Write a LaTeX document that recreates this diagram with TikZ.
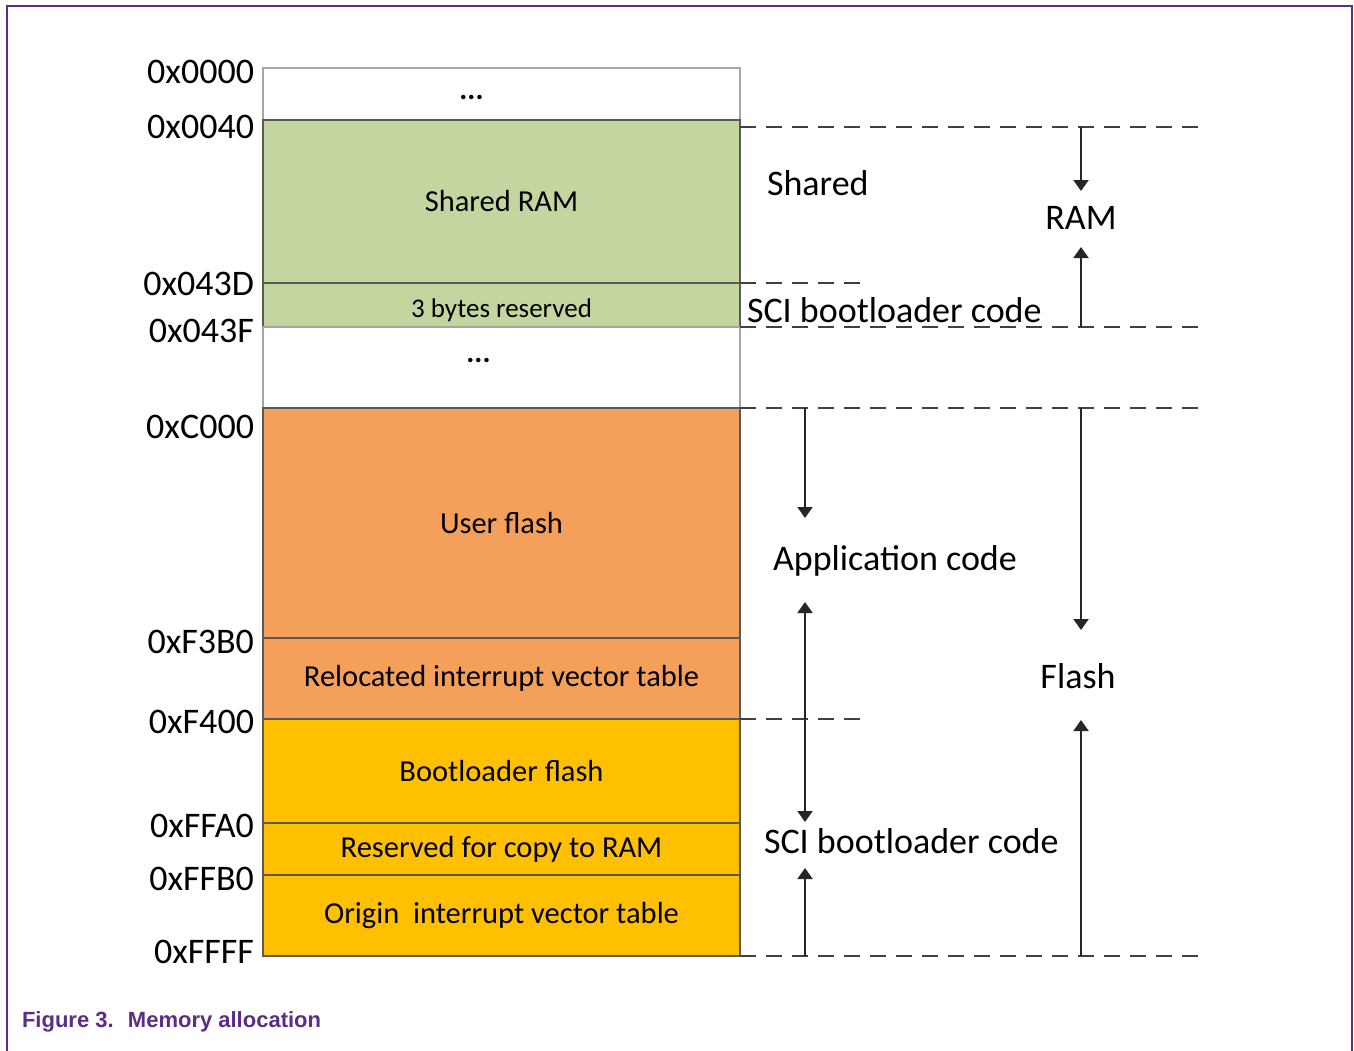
\documentclass[tikz,border=0pt]{standalone}
\usepackage{fontspec}
\setmainfont{Carlito}
\newfontfamily\capfont{Liberation Sans}
\usetikzlibrary{positioning,arrows.meta}
\definecolor{ramgreen}{HTML}{C4D6A0}
\definecolor{appflash}{HTML}{F4A05A}
\definecolor{bootflash}{HTML}{FFC000}
\definecolor{nxppurple}{HTML}{5C2D87}

\begin{document}
\begin{tikzpicture}[x=1pt,y=-1pt,every node/.style={outer sep=0pt},
 region/.style={draw=black!65,line width=1.3pt,minimum width=477pt,inner sep=0pt,
  font=\fontsize{30.5}{36}\selectfont},
 free/.style={region,draw=black!35,fill=white},
 dots/.style={inner sep=0pt,font=\bfseries\fontsize{30}{36}\selectfont},
 addr/.style={anchor=east,inner sep=0pt,font=\fontsize{36}{40}\selectfont},
 side/.style={inner sep=0pt,font=\fontsize{36}{40}\selectfont},
 guide/.style={draw=black!75,line width=2pt,dash pattern=on 16pt off 10pt},
 dim/.style={draw=black!85,line width=2pt,-{Triangle[width=15pt,length=11pt]}}]

  \useasboundingbox (0,0) rectangle (1354,1050);
  \draw[nxppurple,line width=2.5pt] (7,1052) -- (7,6) -- (1352,6) -- (1352,1052);

  % memory map, top to bottom
  \node[free,minimum height=52pt,anchor=north west] (r1) at (263,68) {};
  \node[region,fill=ramgreen,minimum height=163pt,below=0pt of r1] (r2) {Shared RAM};
  \node[region,fill=ramgreen,minimum height=44pt,below=0pt of r2] (r3) {};
  \node[free,minimum height=81pt,below=0pt of r3] (r4) {};
  \node[region,fill=appflash,minimum height=230pt,below=0pt of r4] (r5) {User flash};
  \node[region,fill=appflash,minimum height=81pt,below=0pt of r5] (r6) {Relocated interrupt vector table};
  \node[region,fill=bootflash,minimum height=104pt,below=0pt of r6] (r7) {Bootloader flash};
  \node[region,fill=bootflash,minimum height=52pt,below=0pt of r7] (r8) {Reserved for copy to RAM};
  \node[region,fill=bootflash,minimum height=81pt,below=0pt of r8] (r9) {Origin~ interrupt vector table};

  \node[inner sep=0pt,font=\fontsize{27}{32}\selectfont] (resv) at ([yshift=-5pt]r3.center) {3 bytes reserved};
  \node[dots] (dots1) at ([xshift=-30pt,yshift=-3pt]r1.center) {...};
  \node[dots] (dots2) at ([xshift=-23pt,yshift=7pt]r4.center) {...};

  % addresses
  \foreach \adr/\y [count=\i] in {0x0000/72,0x0040/127,0x043D/284,0x043F/331,0xC000/427,
   0xF3B0/642,0xF400/722,0xFFA0/826,0xFFB0/879,0xFFFF/952}
   \node[addr] (a\i) at (254,\y) {\adr};

  % region borders
  \draw[guide] ([yshift=-7pt]r2.north east) coordinate (ramtop) -- ++(467,0);
  \draw[guide] (r3.north east) -- ++(120,0);
  \draw[guide] (r3.south east) -- ++(467,0) coordinate (ramend);
  \draw[guide] (r5.north east) -- ++(467,0);
  \draw[guide] (r7.north east) -- ++(120,0);
  \draw[guide] (r9.south east) -- ++(467,0);

  \node[side,anchor=west] (shared) at (767,183) {Shared};
  \node[side,anchor=west] (scir) at (747,310) {SCI bootloader code};
  \node[side] (ram) at (1081,218) {RAM};
  \node[side,anchor=west] (app) at (773,561) {Application code};
  \node[side] (flash) at (1078,676) {Flash};
  \node[side,anchor=west] (scif) at (764,841) {SCI bootloader code};

  \coordinate (appx) at (r5.north east -| 805,0);
  \coordinate (bootx) at (r7.north east -| 805,0);
  \coordinate (endx) at (r9.south east -| 805,0);
  \coordinate (flx) at (r5.north east -| 1081,0);
  \coordinate (flend) at (r9.south east -| 1081,0);
  \coordinate (ramx) at (ramtop -| 1081,0);
  \coordinate (ramy) at (ramend -| 1081,0);

  \draw[dim] (ramx) -- ++(0,64);
  \draw[dim] (ramy) -- ++(0,-80);
  \draw[dim] (appx) -- ++(0,110);
  \draw[dim] (bootx) -- ++(0,-117);
  \draw[dim] (bootx) -- ++(0,103);
  \draw[dim] (endx) -- ++(0,-88);
  \draw[dim] (flx) -- ++(0,222);
  \draw[dim] (flend) -- ++(0,-236);

  \node[anchor=west,inner sep=0pt,text=nxppurple,font=\capfont\bfseries\fontsize{22}{26}\selectfont]
   (caption) at (22,1022) {Figure 3.~ Memory allocation};
\end{tikzpicture}
\end{document}
